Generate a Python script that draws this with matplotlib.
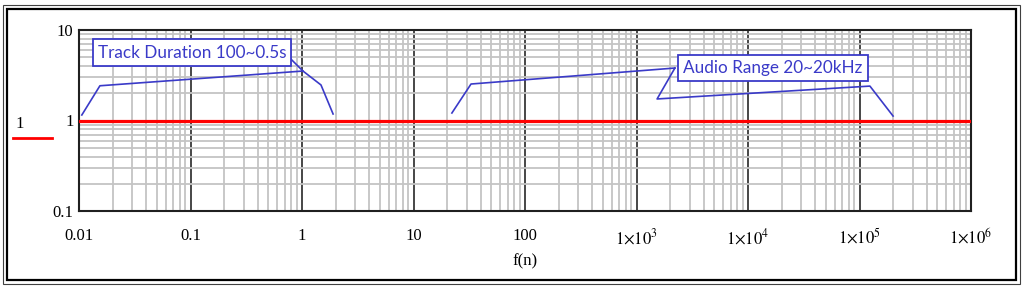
import numpy as np
from matplotlib import pyplot as plt
from matplotlib.patches import Rectangle
from matplotlib.lines import Line2D
from matplotlib.ticker import FixedLocator, LogLocator, NullFormatter

plt.rcParams['mathtext.fontset'] = 'stix'

# axis ticks
x_ticks = [0.01, 0.1, 1, 10, 100, 1e3, 1e4, 1e5, 1e6]
x_labels = ["0.01", "0.1", "1", "10", "100",
            r"$1{\times}10^{3}$", r"$1{\times}10^{4}$", r"$1{\times}10^{5}$", r"$1{\times}10^{6}$"]
y_ticks = [0.1, 1, 10]
y_labels = ["0.1", "1", "10"]

# the trace f(n) = 1
trace_x = [0.01, 1e6]
trace_y = [1, 1]

# annotation callout lines
track_x1 = [0.0106, 0.0154, 1.02]
track_y1 = [1.15, 2.42, 3.52]
track_x2 = [0.73, 1.02, 1.48, 1.90]
track_y2 = [5.3, 3.52, 2.47, 1.18]
audio_x1 = [22.1, 32.8, 2210]
audio_y1 = [1.21, 2.53, 3.8]
audio_x2 = [2210, 1530, 124000, 200000]
audio_y2 = [3.8, 1.73, 2.40, 1.12]

blue = "#3a3ac8"

fig = plt.figure(figsize=[10.24, 2.89], dpi=100)
ax = fig.add_axes([79 / 1024, 1 - 211 / 289, 892 / 1024, 181 / 289])
ax.set_xscale("log")
ax.set_yscale("log")
ax.set_xlim(0.01, 1e6)
ax.set_ylim(0.1, 10)

# grid: gray minors, dark majors
ax.xaxis.set_major_locator(FixedLocator(x_ticks))
ax.yaxis.set_major_locator(FixedLocator(y_ticks))
ax.xaxis.set_minor_locator(LogLocator(base=10, subs=np.arange(2, 10)))
ax.yaxis.set_minor_locator(LogLocator(base=10, subs=np.arange(2, 10)))
ax.xaxis.set_minor_formatter(NullFormatter())
ax.yaxis.set_minor_formatter(NullFormatter())
ax.grid(which="minor", color="#c4c4c4", linewidth=1.3)
ax.grid(which="major", axis="x", color="#383838", linewidth=1.3)
ax.grid(which="major", axis="y", color="#383838", linewidth=1.3)
ax.set_axisbelow(True)

ax.set_xticklabels(x_labels, family="Liberation Serif", fontsize=12)
ax.set_yticklabels(y_labels, family="Liberation Serif", fontsize=12)
ax.tick_params(which="both", length=0)
ax.tick_params(axis="x", pad=12)
ax.tick_params(axis="y", pad=4)
for s in ax.spines.values():
    s.set_linewidth(1.5)
    s.set_color("#202020")

ax.set_xlabel("f(n)", family="Liberation Serif", fontsize=12, labelpad=4)

# the trace
ax.plot(trace_x, trace_y, color="#ff0000", linewidth=2.3, zorder=3)

# callouts
for xs, ys in [(track_x1, track_y1), (track_x2, track_y2), (audio_x1, audio_y1), (audio_x2, audio_y2)]:
    ax.plot(xs, ys, color=blue, linewidth=1.2, zorder=4)

box = dict(boxstyle="square,pad=0.3", facecolor="white", edgecolor=blue, linewidth=1.3)
ax.text(0.103, 5.64, "Track Duration 100~0.5s", color=blue, family="Lato", fontsize=12.3,
        ha="center", va="center", bbox=box, zorder=5)
ax.text(16750, 3.8, "Audio Range 20~20kHz", color=blue, family="Lato", fontsize=12.3,
        ha="center", va="center", bbox=box, zorder=5)

# trace legend on the left
fig.text(20 / 1024, 1 - 124 / 289, "1", family="Liberation Serif", fontsize=12, ha="center", va="center")
fig.add_artist(Line2D([13 / 1024, 52 / 1024], [1 - 138 / 289, 1 - 138 / 289], color="#ff0000",
                      linewidth=2.0, transform=fig.transFigure))

# double frame around the region
fig.add_artist(Rectangle((3 / 1024, 1 - 284 / 289), 1017 / 1024, 279 / 289, fill=False,
                         edgecolor="#404040", linewidth=0.8, transform=fig.transFigure))
fig.add_artist(Rectangle((7 / 1024, 1 - 280 / 289), 1009 / 1024, 271 / 289, fill=False,
                         edgecolor="black", linewidth=1.6, transform=fig.transFigure))

fig.savefig("out.png", dpi=100)
